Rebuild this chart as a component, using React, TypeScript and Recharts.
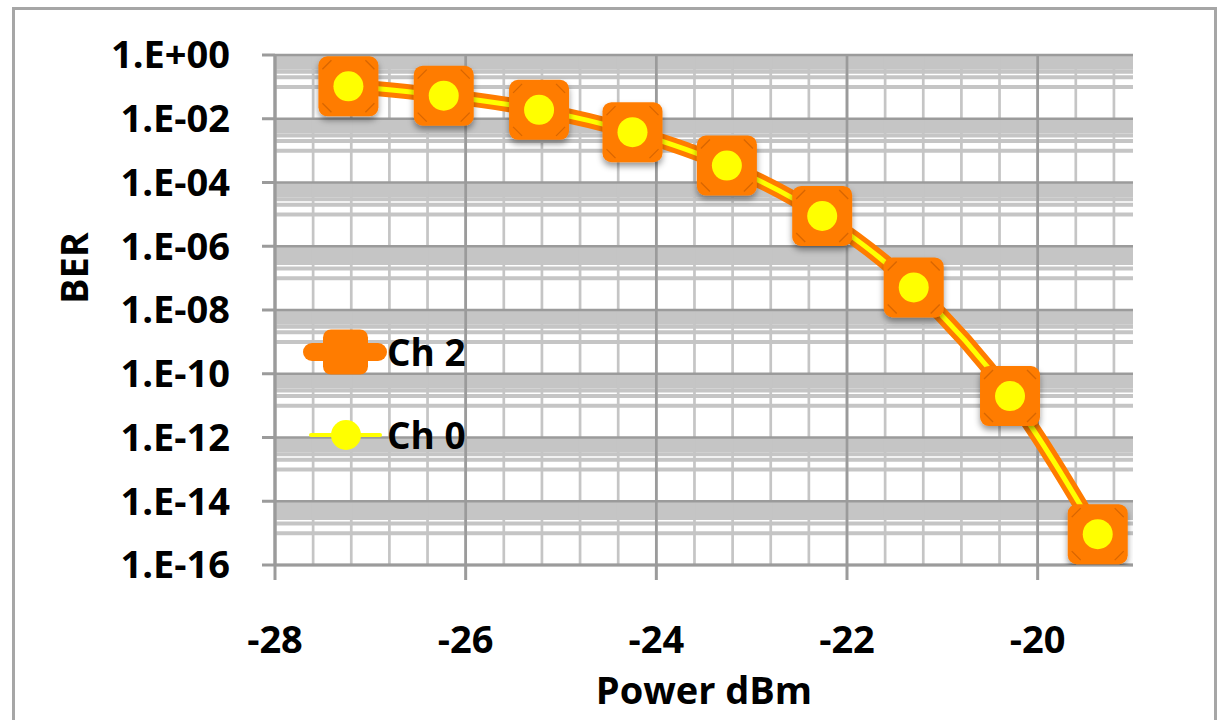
import React from 'react'
import { LineChart, Line, XAxis, YAxis, Legend, ReferenceLine } from 'recharts'

// Power in dBm and measured BER for each channel
const power = [-27.23, -26.23, -25.23, -24.25, -23.26, -22.26, -21.3, -20.29, -19.37]
const berCh2 = [1.04e-1, 5.3e-2, 1.9e-2, 3.8e-3, 3.4e-4, 8.9e-6, 5.1e-8, 2.0e-11, 9.3e-16]
const berCh0 = [1.04e-1, 5.3e-2, 1.9e-2, 3.8e-3, 3.4e-4, 8.9e-6, 5.1e-8, 2.0e-11, 9.3e-16]

const seriesOrder = ['Ch 2', 'Ch 0']

const xTicks = [-28, -26, -24, -22, -20]
const yTicks = [1, 1e-2, 1e-4, 1e-6, 1e-8, 1e-10, 1e-12, 1e-14, 1e-16]

const rows = power.map((p, i) => ({ power: p, ch2: berCh2[i], ch0: berCh0[i] }))

// minor grid: every 0.4 dB, and k·10^n inside the upper decade of each major step
const xMinor = Array.from({ length: 23 }, (_, i) => Math.round((-28 + i * 0.4) * 10) / 10)
const yMinor = yTicks.slice(0, -1).flatMap(m => [1, 2, 3, 4, 5, 6, 7, 8, 9].map(k => (k * m) / 10))

const ORANGE = '#ff7c00'
const YELLOW = '#ffff00'
const GRID_MINOR = '#c5c5c5'
const GRID_MAJOR = '#9b9b9b'
const FONT = "'Open Sans', sans-serif"

const fmtBer = (v: number) => {
  const e = Math.round(Math.log10(v))
  const s = String(Math.abs(e)).padStart(2, '0')
  return `1.E${e >= 0 ? '+' : '-'}${s}`
}

const SquareDot = (props: any) => {
  const { cx, cy, index } = props
  if (cx == null || cy == null) return null
  const s = 30
  const c = 4
  const d = 13
  return (
    <g key={`sq-${index}`} filter="url(#markerShadow)">
      <rect x={cx - s} y={cy - s} width={s * 2} height={s * 2} rx={9} fill={ORANGE} />
      <g stroke="#b85400" strokeOpacity={0.55} strokeWidth={1.3}>
        <line x1={cx - s + c} y1={cy - s + d} x2={cx - s + d} y2={cy - s + c} />
        <line x1={cx + s - c} y1={cy - s + d} x2={cx + s - d} y2={cy - s + c} />
        <line x1={cx - s + c} y1={cy + s - d} x2={cx - s + d} y2={cy + s - c} />
        <line x1={cx + s - c} y1={cy + s - d} x2={cx + s - d} y2={cy + s - c} />
      </g>
    </g>
  )
}

const CircleDot = (props: any) => {
  const { cx, cy, index } = props
  if (cx == null || cy == null) return null
  return <circle key={`ci-${index}`} cx={cx} cy={cy} r={15} fill={YELLOW} />
}

const LegendIcon = ({ kind }: { kind: string }) =>
  kind === 'ch2' ? (
    <svg width={84} height={50}>
      <line x1={9} y1={25} x2={75} y2={25} stroke={ORANGE} strokeWidth={18} strokeLinecap="round" />
      <rect x={20} y={2.5} width={45} height={45} rx={8} fill={ORANGE} />
    </svg>
  ) : (
    <svg width={84} height={50}>
      <line x1={8} y1={25} x2={77} y2={25} stroke={YELLOW} strokeWidth={4} strokeLinecap="round" />
      <circle cx={43} cy={25} r={15} fill={YELLOW} />
    </svg>
  )

const renderLegend = (props: any) => {
  const items = [...(props.payload || [])].sort(
    (a: any, b: any) => seriesOrder.indexOf(a.value) - seriesOrder.indexOf(b.value)
  )
  return (
    <div style={{ display: 'flex', flexDirection: 'column', gap: 33 }}>
      {items.map((it: any) => (
        <div key={it.value} style={{ display: 'flex', alignItems: 'center', height: 50 }}>
          <LegendIcon kind={it.dataKey} />
          <span style={{ fontFamily: FONT, fontWeight: 700, fontSize: 37, color: '#000', lineHeight: '50px' }}>
            {it.value}
          </span>
        </div>
      ))}
    </div>
  )
}

const tickStyle = { fill: '#000', fontSize: 38, fontWeight: 700, fontFamily: FONT }

export default function App() {
  return (
    <div style={{ position: 'absolute', left: 0, top: 0, width: 1222, height: 720, background: '#fff', overflow: 'hidden' }}>
      <div
        style={{
          position: 'absolute',
          left: 12,
          top: 7,
          width: 1205,
          height: 740,
          border: '3px solid #a6a6a6',
          boxSizing: 'border-box',
        }}
      />
      <div style={{ position: 'absolute', left: 0, top: 0 }}>
        <LineChart width={1222} height={720} data={rows} margin={{ top: 55, right: 89, bottom: 0, left: 0 }}>
          <defs>
            <filter id="markerShadow" x="-40%" y="-40%" width="180%" height="190%">
              <feDropShadow dx={0} dy={4} stdDeviation={3} floodColor="#000" floodOpacity={0.4} />
            </filter>
          </defs>
          {yMinor.map(v => (
            <ReferenceLine key={`hy-${v}`} y={v} stroke={GRID_MINOR} strokeWidth={4} zIndex={-100} />
          ))}
          {xMinor.map(v => (
            <ReferenceLine key={`vx-${v}`} x={v} stroke={GRID_MINOR} strokeWidth={2.7} zIndex={-100} />
          ))}
          {xTicks.map(v => (
            <ReferenceLine key={`VX-${v}`} x={v} stroke={GRID_MAJOR} strokeWidth={2.7} zIndex={-90} />
          ))}
          {yTicks.map(v => (
            <ReferenceLine key={`HY-${v}`} y={v} stroke={GRID_MAJOR} strokeWidth={2.7} zIndex={-90} />
          ))}
          <XAxis
            dataKey="power"
            type="number"
            domain={[-28, -19]}
            ticks={xTicks}
            allowDataOverflow
            height={155}
            tickSize={15}
            tickMargin={46}
            axisLine={{ stroke: GRID_MAJOR, strokeWidth: 3 }}
            tickLine={{ stroke: GRID_MAJOR, strokeWidth: 3 }}
            tick={tickStyle}
            label={{
              content: (p: any) => {
                const vb = p.viewBox
                return (
                  <text
                    x={vb.x + vb.width / 2}
                    y={vb.y + vb.height - 16}
                    textAnchor="middle"
                    style={{ fontFamily: FONT, fontWeight: 700, fontSize: 38, fill: '#000' }}
                  >
                    Power dBm
                  </text>
                )
              },
            }}
          />
          <YAxis
            type="number"
            scale="log"
            domain={[1e-16, 1]}
            ticks={yTicks}
            allowDataOverflow
            width={275}
            tickSize={13}
            tickMargin={32}
            tickFormatter={fmtBer}
            axisLine={{ stroke: GRID_MAJOR, strokeWidth: 3 }}
            tickLine={{ stroke: GRID_MAJOR, strokeWidth: 3 }}
            tick={tickStyle}
            label={{
              content: (p: any) => {
                const vb = p.viewBox
                const x = 88
                const y = vb.y + vb.height / 2 - 42
                return (
                  <text
                    x={x}
                    y={y}
                    textAnchor="middle"
                    transform={`rotate(-90, ${x}, ${y})`}
                    style={{ fontFamily: FONT, fontWeight: 700, fontSize: 38, fill: '#000' }}
                  >
                    BER
                  </text>
                )
              },
            }}
          />
          <Legend
            layout="vertical"
            align="center"
            verticalAlign="middle"
            content={renderLegend}
            wrapperStyle={{ left: 303, top: 327, width: 200 }}
          />
          <Line
            name="Ch 2"
            dataKey="ch2"
            type="monotone"
            stroke={ORANGE}
            strokeWidth={15}
            dot={<SquareDot />}
            activeDot={false}
            isAnimationActive={false}
          />
          <Line
            name="Ch 0"
            dataKey="ch0"
            type="monotone"
            stroke={YELLOW}
            strokeWidth={5}
            dot={<CircleDot />}
            activeDot={false}
            isAnimationActive={false}
          />
        </LineChart>
      </div>
    </div>
  )
}
